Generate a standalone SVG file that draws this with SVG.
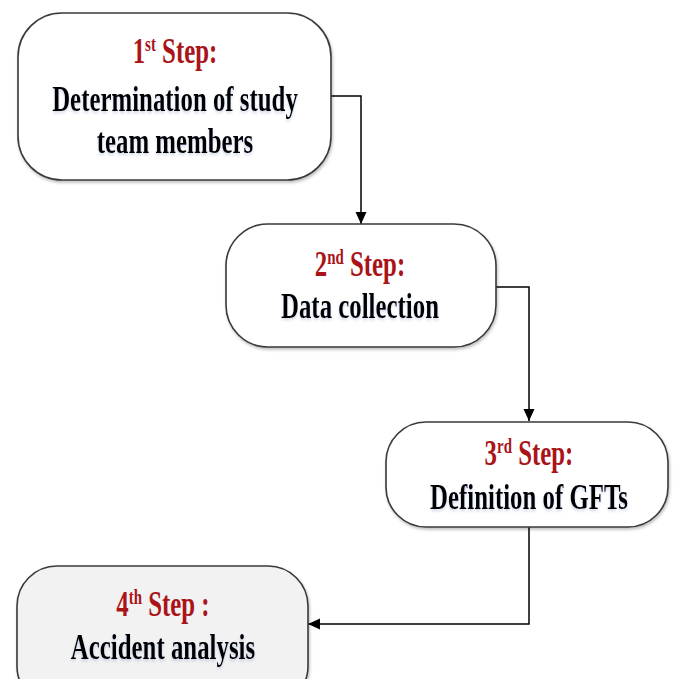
<svg xmlns="http://www.w3.org/2000/svg" width="678" height="679" viewBox="0 0 678 679">
<defs>
<marker id="arr" markerUnits="userSpaceOnUse" markerWidth="12" markerHeight="16" viewBox="0 0 12 16" refX="12" refY="8" orient="auto">
<path d="M0,2.5 L12,8 L0,13.5 Z" fill="#000"/>
</marker>
<filter id="sh" x="-10%" y="-10%" width="120%" height="130%">
<feDropShadow dx="1" dy="2" stdDeviation="1.5" flood-color="#000" flood-opacity="0.25"/>
</filter>
<filter id="tsh" x="-5%" y="-20%" width="110%" height="150%">
<feDropShadow dx="0" dy="2" stdDeviation="1.5" flood-color="#7a8fc0" flood-opacity="0.35"/>
</filter>
</defs>
<style>
.box{fill:#fff;stroke:#3a3a3a;stroke-width:1.6}
.box4{fill:#f2f2f2}
text{font-family:"Liberation Serif","Times New Roman",serif;font-weight:bold;font-size:35px;text-anchor:middle}
.red{fill:#aa1418}
.blk{fill:#000;filter:url(#tsh)}
.sup{font-size:21px}
.conn{fill:none;stroke:#000;stroke-width:1.5}
</style>
<g id="connectors">
<path class="conn" d="M331,96 H361 V224" marker-end="url(#arr)"/>
<path class="conn" d="M496,287 H529 V421" marker-end="url(#arr)"/>
<path class="conn" d="M529,527 V624 H308" marker-end="url(#arr)"/>
</g>
<g id="step1">
<rect class="box" x="18" y="13" width="313" height="167" rx="44" ry="44" filter="url(#sh)"/>
<g transform="translate(175,0) scale(0.71,1)">
<text class="red" x="0" y="63">1<tspan class="sup" dy="-12">st</tspan><tspan dy="12"> Step:</tspan></text>
<text class="blk" x="0" y="111">Determination of study</text>
<text class="blk" x="0" y="153">team members</text>
</g>
</g>
<g id="step2">
<rect class="box" x="226" y="224" width="270" height="123" rx="42" ry="42" filter="url(#sh)"/>
<g transform="translate(360,0) scale(0.71,1)">
<text class="red" x="0" y="276">2<tspan class="sup" dy="-12">nd</tspan><tspan dy="12"> Step:</tspan></text>
<text class="blk" x="0" y="318">Data collection</text>
</g>
</g>
<g id="step3">
<rect class="box" x="386" y="422" width="282" height="105" rx="40" ry="40" filter="url(#sh)"/>
<g transform="translate(529,0) scale(0.71,1)">
<text class="red" x="0" y="465">3<tspan class="sup" dy="-12">rd</tspan><tspan dy="12"> Step:</tspan></text>
<text class="blk" x="0" y="509">Definition of GFTs</text>
</g>
</g>
<g id="step4">
<rect class="box box4" x="17" y="566" width="291" height="140" rx="40" ry="40" filter="url(#sh)"/>
<g transform="translate(163,0) scale(0.71,1)">
<text class="red" x="0" y="616">4<tspan class="sup" dy="-12">th</tspan><tspan dy="12"> Step :</tspan></text>
<text class="blk" x="0" y="659">Accident analysis</text>
</g>
</g>
</svg>
